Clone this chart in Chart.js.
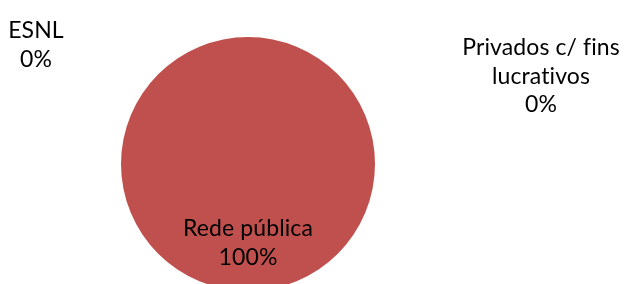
<!DOCTYPE html>
<html>
<head>
<meta charset="utf-8">
<script src="https://cdn.jsdelivr.net/npm/chart.js@4"></script>
<style>
  html, body { margin: 0; padding: 0; background: #fff; overflow: hidden; }
  #wrap { width: 625px; height: 284px; overflow: hidden; }
</style>
</head>
<body>
<div id="wrap"><canvas id="pieChart" width="625" height="300"></canvas></div>
<script>
const categories = ['Rede pública', 'ESNL', 'Privados c/ fins lucrativos'];
const values = [100, 0, 0];
const sliceColors = ['#C0504D', '#4F81BD', '#9BBB59'];

// label text lines per slice (wrapped like the original)
const labelLines = [['Rede pública'], ['ESNL'], ['Privados c/ fins', 'lucrativos']];

const FONT = '23px Lato, "Open Sans", sans-serif';
const LINE_H = 28.5;

const labelPlugin = {
    id: 'sliceLabels',
    afterDatasetsDraw(chart) {
        const ctx = chart.ctx;
        const meta = chart.getDatasetMeta(0);
        const total = values.reduce((a, v) => a + v, 0);
        ctx.save();
        ctx.font = FONT;
        // tiny spacing stops the "ti" ligature in Lato
        if ('letterSpacing' in ctx) ctx.letterSpacing = '0.1px';
        ctx.fillStyle = '#000';
        ctx.textAlign = 'center';
        ctx.textBaseline = 'middle';
        meta.data.forEach((arc, i) => {
            const pct = Math.round(values[i] / total * 100) + '%';
            const lines = labelLines[i].concat([pct]);
            let x, y;
            if (values[i] > 0) {
                // inside label, below centre
                x = arc.x;
                y = arc.y + arc.outerRadius * 0.51;
            } else if (i === 1) {
                x = 36; y = 31;
            } else {
                x = 541; y = 48;
            }
            lines.forEach((t, k) => ctx.fillText(t, x, y + k * LINE_H));
        });
        ctx.restore();
    }
};

new Chart(document.getElementById('pieChart').getContext('2d'), {
    type: 'pie',
    data: {
        labels: categories,
        datasets: [{
            data: values,
            backgroundColor: sliceColors,
            borderWidth: 0
        }]
    },
    options: {
        responsive: false,
        animation: false,
        layout: { padding: { top: 37, bottom: 9, left: 121, right: 250 } },
        plugins: {
            legend: { display: false },
            tooltip: { enabled: false }
        }
    },
    plugins: [labelPlugin]
});
</script>
</body>
</html>
